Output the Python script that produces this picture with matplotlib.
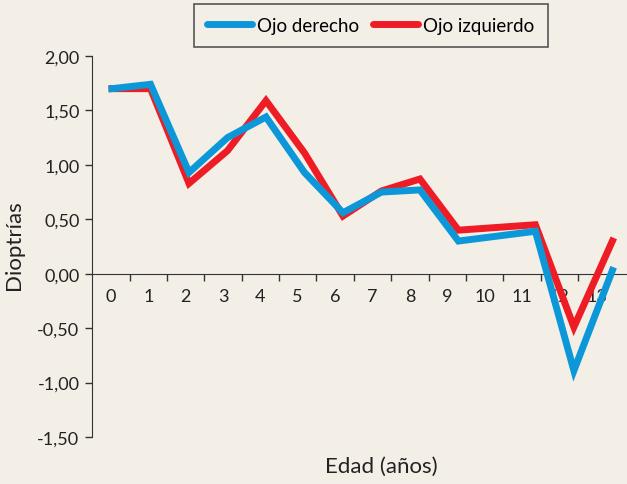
import matplotlib
matplotlib.use("Agg")
import matplotlib.pyplot as plt
import numpy as np

# edad (años) con dato; no hay valor a los 10 años
edad = [0, 1, 2, 3, 4, 5, 6, 7, 8, 9, 11, 12, 13]
ojo_derecho = [1.70, 1.74, 0.93, 1.25, 1.44, 0.93, 0.56, 0.75, 0.77, 0.30, 0.39, -0.89, 0.03]
ojo_izquierdo = [1.70, 1.70, 0.83, 1.13, 1.59, 1.11, 0.53, 0.76, 0.87, 0.40, 0.45, -0.49, 0.30]
x_labels = [str(i) for i in range(14)]
y_ticks = [2.0, 1.5, 1.0, 0.5, 0.0, -0.5, -1.0, -1.5]

bg = '#F3EFE7'
blue = '#0C98D8'
red = '#EE1D25'
axis_col = '#333333'
txt_col = '#222222'

plt.rcParams['font.family'] = ['Lato', 'DejaVu Sans']

fig = plt.figure(figsize=(6.27, 4.85), dpi=100, facecolor=bg)
ax = fig.add_axes([92 / 627, 47 / 485, 535 / 627, 381 / 485])
ax.set_facecolor(bg)

ax.plot(edad, ojo_izquierdo, color=red, lw=5, solid_joinstyle='miter', label='Ojo izquierdo', zorder=3)
ax.plot(edad, ojo_derecho, color=blue, lw=5, solid_joinstyle='miter', label='Ojo derecho', zorder=4)

ax.set_xlim(-0.52, 13.38)
ax.set_ylim(-1.5, 2.0)

# the category labels in the original run on a slightly tighter grid than the points
step = 0.971
lab_pos = np.arange(len(x_labels)) * step - 0.03
ax.set_xticks(lab_pos[:-1] + step / 2)
ax.set_xticklabels([])
ax.set_xticks(lab_pos, minor=True)
ax.set_xticklabels(x_labels, minor=True)
ax.tick_params(axis='x', which='major', direction='out', length=5, width=1, color=axis_col)
ax.tick_params(axis='x', which='minor', length=0, pad=10, labelsize=13, labelcolor=txt_col)

ax.set_yticks(y_ticks)
ax.set_yticklabels([f'{v:.2f}'.replace('.', ',') for v in y_ticks])
ax.tick_params(axis='y', direction='out', length=5, width=1, color=axis_col, pad=4,
               labelsize=13, labelcolor=txt_col)

for s in ['top', 'right']:
    ax.spines[s].set_visible(False)
ax.spines['bottom'].set_position(('data', 0))
ax.spines['bottom'].set_color(axis_col)
ax.spines['left'].set_color(axis_col)

ax.set_ylabel('Dioptrías', fontsize=16, color=txt_col)
ax.yaxis.set_label_coords(-0.127, 0.507)
ax.set_xlabel('Edad (años)', fontsize=16, color=txt_col)
ax.xaxis.set_label_coords(0.54, -0.05)

handles, labels = ax.get_legend_handles_labels()
leg = fig.legend(handles[::-1], labels[::-1], loc='upper center', bbox_to_anchor=(0.591, 0.99),
                 ncol=2, fontsize=13.5, frameon=True, fancybox=False, edgecolor='#555555',
                 facecolor=bg, framealpha=1, handlelength=2.4, handletextpad=0.3,
                 columnspacing=0.7, borderpad=0.7, borderaxespad=0)
leg.get_frame().set_linewidth(1.2)
for line in leg.get_lines():
    line.set_solid_capstyle('round')

fig.savefig('out.png', dpi=100, facecolor=bg)
